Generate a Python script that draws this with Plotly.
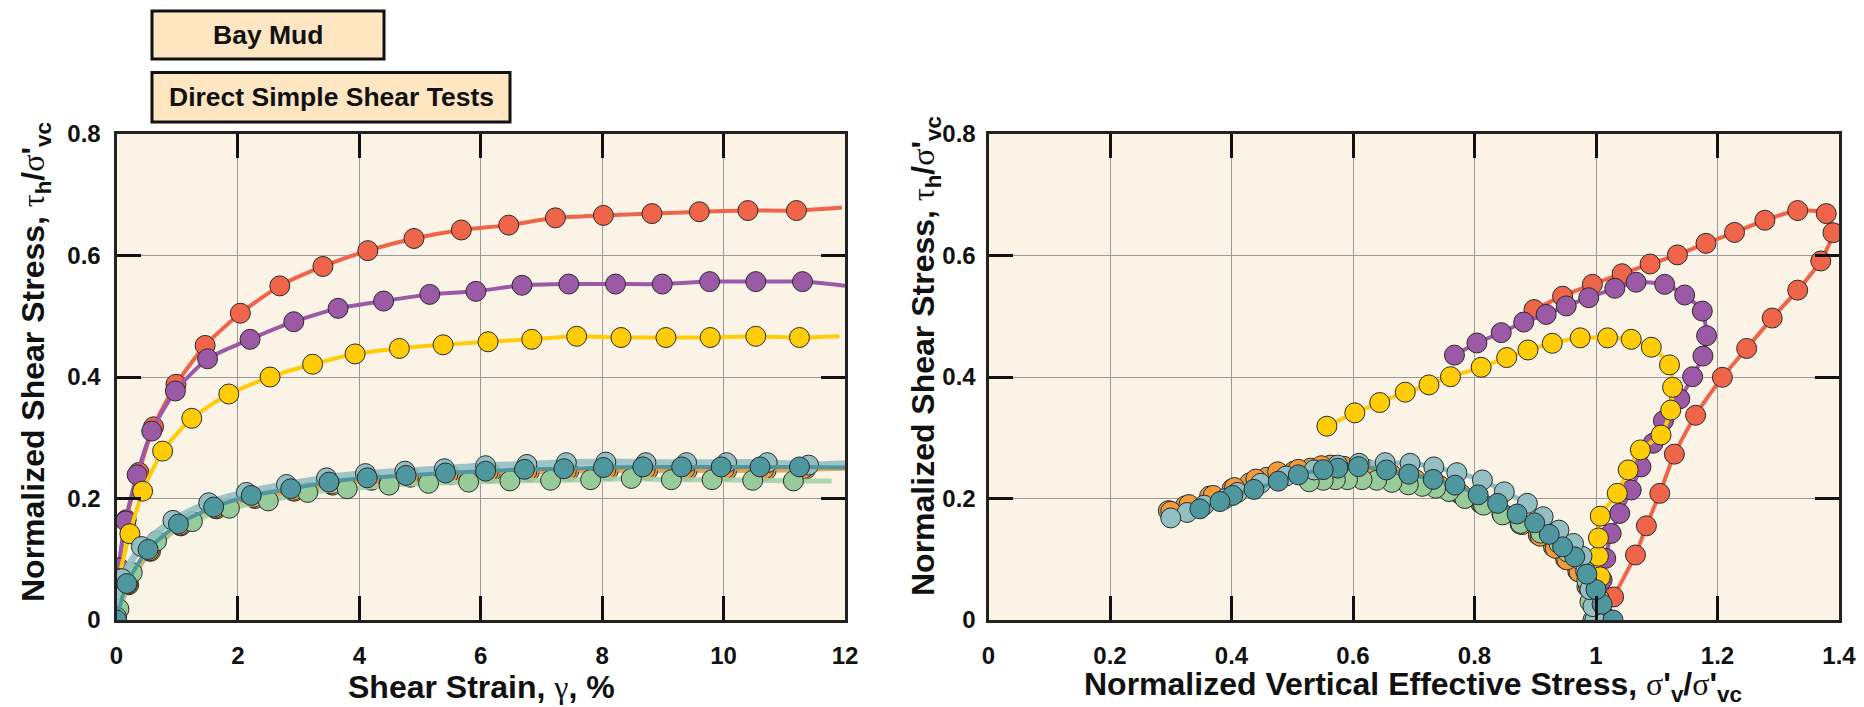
import plotly.graph_objects as go

# ---------------- Stress-strain curves (left panel) ----------------
red_strain = [0, 0.03, 0.16, 0.37, 0.61, 0.98, 1.46, 2.04, 2.69, 3.40, 4.14, 4.90, 5.68, 6.46, 7.23, 8.02, 8.82, 9.60, 10.40, 11.20]
red_tau = [0, 0.082, 0.165, 0.243, 0.318, 0.388, 0.452, 0.505, 0.550, 0.582, 0.608, 0.628, 0.642, 0.650, 0.662, 0.666, 0.669, 0.672, 0.674, 0.674]
red_end = (11.95, 0.679)

purple_strain = [0, 0.04, 0.15, 0.34, 0.58, 0.97, 1.50, 2.20, 2.92, 3.65, 4.40, 5.16, 5.92, 6.68, 7.45, 8.22, 8.99, 9.77, 10.53, 11.30]
purple_tau = [0.005, 0.086, 0.163, 0.239, 0.311, 0.377, 0.430, 0.462, 0.491, 0.513, 0.525, 0.536, 0.541, 0.551, 0.553, 0.553, 0.553, 0.557, 0.557, 0.557]
purple_end = (12.0, 0.550)

yellow_strain = [0, 0.04, 0.22, 0.43, 0.76, 1.24, 1.85, 2.53, 3.23, 3.93, 4.66, 5.38, 6.12, 6.84, 7.58, 8.31, 9.05, 9.78, 10.53, 11.25]
yellow_tau = [0, 0.068, 0.142, 0.212, 0.278, 0.332, 0.372, 0.400, 0.421, 0.438, 0.447, 0.453, 0.458, 0.462, 0.467, 0.465, 0.465, 0.465, 0.467, 0.465]
yellow_end = (11.91, 0.467)

tan_strain = [0, 0.20, 0.56, 1.06, 1.65, 2.28, 2.93, 3.56, 4.20, 4.84, 5.50, 6.16, 6.80, 7.45, 8.10, 8.75, 9.40, 10.05, 10.70, 11.35]
tan_tau = [0, 0.058, 0.113, 0.155, 0.183, 0.200, 0.212, 0.222, 0.230, 0.235, 0.239, 0.242, 0.244, 0.245, 0.246, 0.246, 0.246, 0.246, 0.246, 0.248]
tan_end = (12.0, 0.250)

orange_strain = [0, 0.18, 0.54, 1.04, 1.62, 2.25, 2.90, 3.53, 4.17, 4.81, 5.46, 6.12, 6.76, 7.41, 8.06, 8.71, 9.36, 10.01, 10.66, 11.31]
orange_tau = [0, 0.059, 0.114, 0.156, 0.184, 0.202, 0.213, 0.224, 0.231, 0.236, 0.240, 0.243, 0.245, 0.246, 0.247, 0.248, 0.248, 0.248, 0.248, 0.249]
orange_end = (12.0, 0.250)

green_strain = [0.04, 0.26, 0.66, 1.25, 1.86, 2.50, 3.15, 3.80, 4.49, 5.14, 5.80, 6.48, 7.15, 7.81, 8.48, 9.14, 9.81, 10.48, 11.15]
green_tau = [0.018, 0.078, 0.130, 0.162, 0.184, 0.196, 0.210, 0.216, 0.222, 0.225, 0.227, 0.229, 0.230, 0.231, 0.233, 0.231, 0.231, 0.230, 0.229]
green_end = (11.78, 0.229)

lteal_strain = [0, 0.09, 0.41, 0.93, 1.52, 2.14, 2.80, 3.46, 4.10, 4.75, 5.40, 6.08, 6.76, 7.41, 8.06, 8.72, 9.39, 10.05, 10.72, 11.40]
lteal_tau = [0.005, 0.068, 0.121, 0.164, 0.193, 0.210, 0.223, 0.234, 0.241, 0.245, 0.249, 0.254, 0.256, 0.259, 0.260, 0.259, 0.259, 0.259, 0.259, 0.255]
lteal_end = (12.0, 0.257)

dteal_strain = [0, 0.17, 0.52, 1.02, 1.60, 2.22, 2.87, 3.50, 4.13, 4.77, 5.42, 6.08, 6.72, 7.37, 8.02, 8.67, 9.31, 9.96, 10.60, 11.25]
dteal_tau = [0, 0.060, 0.116, 0.158, 0.186, 0.205, 0.216, 0.227, 0.234, 0.238, 0.242, 0.245, 0.248, 0.249, 0.251, 0.252, 0.252, 0.252, 0.252, 0.252]
dteal_end = (12.0, 0.251)

# ---------------- Stress paths (right panel) ----------------
red_sv = [1.015, 1.029, 1.065, 1.083, 1.105, 1.129, 1.164, 1.208, 1.248, 1.290, 1.332, 1.370, 1.390, 1.379, 1.332, 1.278, 1.228, 1.181, 1.134, 1.089, 1.043, 0.994, 0.945, 0.898]
red_path_tau = [0.005, 0.038, 0.107, 0.155, 0.2085, 0.273, 0.337, 0.3995, 0.447, 0.497, 0.543, 0.591, 0.6375, 0.669, 0.674, 0.658, 0.638, 0.620, 0.601, 0.586, 0.570, 0.5525, 0.533, 0.511]

purple_sv = [1.0, 1.005, 1.010, 1.016, 1.025, 1.039, 1.058, 1.074, 1.094, 1.111, 1.138, 1.159, 1.176, 1.182, 1.175, 1.146, 1.113, 1.066, 1.031, 0.988, 0.951, 0.918, 0.881, 0.844, 0.804, 0.767]
purple_path_tau = [0.010, 0.035, 0.066, 0.1015, 0.1425, 0.1755, 0.214, 0.252, 0.291, 0.328, 0.364, 0.4005, 0.4345, 0.468, 0.5085, 0.535, 0.5525, 0.556, 0.546, 0.5305, 0.517, 0.503, 0.4905, 0.473, 0.456, 0.436]

yellow_sv = [1.0, 1.005, 1.007, 1.004, 1.004, 1.007, 1.035, 1.053, 1.073, 1.107, 1.123, 1.126, 1.121, 1.091, 1.058, 1.019, 0.974, 0.928, 0.888, 0.853, 0.811, 0.7605, 0.725, 0.686, 0.644, 0.603, 0.557]
yellow_path_tau = [0.005, 0.035, 0.071, 0.105, 0.135, 0.171, 0.2085, 0.247, 0.280, 0.3045, 0.3455, 0.383, 0.420, 0.449, 0.462, 0.4645, 0.4645, 0.4555, 0.4445, 0.432, 0.416, 0.4005, 0.387, 0.375, 0.358, 0.341, 0.319]

tan_sv = [1.0, 0.995, 0.985, 0.970, 0.950, 0.930, 0.905, 0.875, 0.845, 0.810, 0.775, 0.740, 0.700, 0.660, 0.620, 0.580, 0.563, 0.530, 0.503, 0.458, 0.430, 0.401, 0.364, 0.324, 0.296]
tan_path_tau = [0.0, 0.025, 0.055, 0.080, 0.100, 0.120, 0.140, 0.158, 0.175, 0.192, 0.208, 0.222, 0.232, 0.240, 0.247, 0.252, 0.255, 0.250, 0.245, 0.235, 0.226, 0.216, 0.204, 0.188, 0.180]

orange_sv = [1.005, 0.998, 0.988, 0.972, 0.952, 0.933, 0.908, 0.878, 0.848, 0.813, 0.778, 0.743, 0.703, 0.663, 0.623, 0.585, 0.548, 0.510, 0.476, 0.440, 0.405, 0.370, 0.330, 0.300]
orange_path_tau = [0.0, 0.024, 0.054, 0.079, 0.099, 0.118, 0.138, 0.157, 0.174, 0.191, 0.207, 0.221, 0.231, 0.240, 0.248, 0.253, 0.254, 0.248, 0.244, 0.232, 0.218, 0.205, 0.190, 0.179]

green_sv = [0.995, 0.990, 0.985, 0.974, 0.953, 0.939, 0.909, 0.876, 0.846, 0.815, 0.784, 0.758, 0.736, 0.714, 0.691, 0.664, 0.639, 0.615, 0.591, 0.571, 0.551, 0.528]
green_path_tau = [0.0, 0.030, 0.065, 0.099, 0.112, 0.126, 0.143, 0.159, 0.173, 0.189, 0.200, 0.2115, 0.217, 0.220, 0.2225, 0.2265, 0.230, 0.231, 0.231, 0.231, 0.230, 0.2275]

lteal_sv = [0.998, 0.995, 0.990, 0.983, 0.977, 0.963, 0.939, 0.913, 0.887, 0.849, 0.813, 0.771, 0.733, 0.694, 0.653, 0.610, 0.575, 0.536, 0.490, 0.448, 0.410, 0.390, 0.355, 0.327, 0.300]
lteal_path_tau = [0.0, 0.022, 0.050, 0.080, 0.105, 0.126, 0.148, 0.170, 0.192, 0.211, 0.2305, 0.2425, 0.252, 0.258, 0.259, 0.258, 0.255, 0.247, 0.237, 0.225, 0.210, 0.200, 0.189, 0.177, 0.168]

dteal_sv = [1.028, 1.010, 1.000, 0.985, 0.965, 0.945, 0.923, 0.899, 0.870, 0.838, 0.806, 0.768, 0.732, 0.692, 0.655, 0.609, 0.575, 0.551, 0.510, 0.477, 0.437, 0.402, 0.381, 0.348]
dteal_path_tau = [0.0, 0.026, 0.050, 0.0755, 0.104, 0.1205, 0.141, 0.160, 0.1745, 0.192, 0.206, 0.222, 0.2315, 0.240, 0.247, 0.2525, 0.250, 0.2475, 0.239, 0.2285, 0.215, 0.205, 0.195, 0.183]

# axis ticks
strain_ticks = [0, 2, 4, 6, 8, 10, 12]
strain_labels = ["0", "2", "4", "6", "8", "10", "12"]
tau_ticks = [0, 0.2, 0.4, 0.6, 0.8]
tau_labels = ["0", "0.2", "0.4", "0.6", "0.8"]
sv_ticks = [0, 0.2, 0.4, 0.6, 0.8, 1.0, 1.2, 1.4]
sv_labels = ["0", "0.2", "0.4", "0.6", "0.8", "1", "1.2", "1.4"]

# ---------------- styling ----------------
W, H = 1864, 707
FONT = "Liberation Sans, Arial, sans-serif"
RED = "#EF654A"
PURPLE = "#9B59A6"
YELLOW = "#FFCC05"
TAN = "#C9A35E"
ORANGE = "#F39A3A"
GREEN = "#97CB99"
LTEAL = "#93BFC3"
DTEAL = "#4E979F"
PLOT_BG = "#FBF4E6"
BOX_FILL = "#FEE6C3"
MSIZE = 20
OUTLINE = dict(color="#2a2a2a", width=1)

fig = go.Figure()


def add_series(x, y, color, xa, ya, lw, lcolor=None, lopac=1.0, start=None, end=None):
    lx, ly = list(x), list(y)
    if start is not None:
        lx, ly = [start[0]] + lx, [start[1]] + ly
    if end is not None:
        lx, ly = lx + [end[0]], ly + [end[1]]
    fig.add_trace(go.Scatter(
        x=lx, y=ly, mode="lines", xaxis=xa, yaxis=ya, showlegend=False,
        line=dict(color=lcolor or color, width=lw, shape="spline", smoothing=0.6),
        opacity=lopac, hoverinfo="skip"))
    fig.add_trace(go.Scatter(
        x=x, y=y, mode="markers", xaxis=xa, yaxis=ya, showlegend=False,
        marker=dict(size=MSIZE, color=color, line=OUTLINE)))


# left panel (drawing order: back to front)
add_series(red_strain, red_tau, RED, "x", "y", 4, end=red_end)
add_series(purple_strain, purple_tau, PURPLE, "x", "y", 4, end=purple_end)
add_series(yellow_strain, yellow_tau, YELLOW, "x", "y", 4, end=yellow_end)
add_series(tan_strain, tan_tau, TAN, "x", "y", 5, lopac=0.8, end=tan_end)
add_series(orange_strain, orange_tau, ORANGE, "x", "y", 4, lopac=0.8, end=orange_end)
add_series(green_strain, green_tau, GREEN, "x", "y", 5, lcolor="#A6D3A6", lopac=0.9,
           start=(0, 0), end=green_end)
add_series(lteal_strain, lteal_tau, LTEAL, "x", "y", 7, lopac=0.9, end=lteal_end)
add_series(dteal_strain, dteal_tau, DTEAL, "x", "y", 4, end=dteal_end)

# right panel
add_series(red_sv, red_path_tau, RED, "x2", "y2", 4)
add_series(purple_sv, purple_path_tau, PURPLE, "x2", "y2", 4)
add_series(yellow_sv, yellow_path_tau, YELLOW, "x2", "y2", 4)
add_series(tan_sv, tan_path_tau, TAN, "x2", "y2", 4)
add_series(orange_sv, orange_path_tau, ORANGE, "x2", "y2", 4)
add_series(green_sv, green_path_tau, GREEN, "x2", "y2", 4)
add_series(lteal_sv, lteal_path_tau, LTEAL, "x2", "y2", 5)
add_series(dteal_sv, dteal_path_tau, DTEAL, "x2", "y2", 4)


def px_x(p):
    return p / W


def px_y(p):
    return 1 - p / H


TOP, BOT = 134, 620
ydom = [px_y(BOT), px_y(TOP)]
tickfont = dict(family=FONT, size=24, color="#111")
common = dict(showline=True, linecolor="#222", linewidth=3, mirror="ticks",
              ticks="inside", ticklen=24, tickwidth=3, tickcolor="#111",
              showgrid=True, gridcolor="#9a9a9a", gridwidth=1.3,
              zeroline=False, tickfont=tickfont, tickmode="array",
              automargin=False)

fig.update_layout(
    width=W, height=H,
    margin=dict(l=0, r=0, t=0, b=0, autoexpand=False),
    paper_bgcolor="white", plot_bgcolor=PLOT_BG,
    font=dict(family=FONT, color="#111"),
    xaxis=dict(domain=[px_x(116.5), px_x(845)], range=[0, 12], anchor="y",
               tickvals=strain_ticks, ticktext=[f"<b>{t}</b>" for t in strain_labels],
               ticklabelstandoff=12, **common),
    yaxis=dict(domain=ydom, range=[0, 0.8], anchor="x",
               tickvals=tau_ticks, ticktext=[f"<b>{t}</b>" for t in tau_labels],
               ticklabelstandoff=8, **common),
    xaxis2=dict(domain=[px_x(988.5), px_x(1839)], range=[0, 1.4], anchor="y2",
                tickvals=sv_ticks, ticktext=[f"<b>{t}</b>" for t in sv_labels],
                ticklabelstandoff=12, **common),
    yaxis2=dict(domain=ydom, range=[0, 0.8], anchor="x2",
                tickvals=tau_ticks, ticktext=[f"<b>{t}</b>" for t in tau_labels],
                ticklabelstandoff=5, **common),
)

GREEK = "<span style='font-family:Liberation Serif;font-weight:normal'>{}</span>"
tau_title = ("<b>Normalized Shear Stress, </b>" + GREEK.format("τ") + "<b><sub>h</sub>/</b>"
             + GREEK.format("σ") + "<b>'<sub>vc</sub></b>")
strain_title = "<b>Shear Strain, </b>" + GREEK.format("γ") + "<b>, %</b>"
sv_title = ("<b>Normalized Vertical Effective Stress, </b>" + GREEK.format("σ")
            + "<b>'<sub>v</sub>/</b>" + GREEK.format("σ") + "<b>'<sub>vc</sub></b>")

title_font = dict(family=FONT, size=32, color="#111")
annots = [
    dict(text=tau_title, x=px_x(35), y=px_y(362), textangle=-90),
    dict(text=tau_title, x=px_x(926), y=px_y(356), textangle=-90),
    dict(text=strain_title, x=px_x(481), y=px_y(687)),
    dict(text=sv_title, x=px_x(1413), y=px_y(686)),
]
for a in annots:
    fig.add_annotation(xref="paper", yref="paper", showarrow=False,
                       xanchor="center", yanchor="middle", font=title_font, **a)

# header boxes
boxes = [
    ("Bay Mud", 152, 384, 11, 59),
    ("Direct Simple Shear Tests", 152, 510, 72.5, 122),
]
for text, x0, x1, y0, y1 in boxes:
    fig.add_shape(type="rect", xref="paper", yref="paper",
                  x0=px_x(x0), x1=px_x(x1), y0=px_y(y1), y1=px_y(y0),
                  fillcolor=BOX_FILL, line=dict(color="#111", width=3))
    fig.add_annotation(xref="paper", yref="paper", showarrow=False,
                       x=px_x((x0 + x1) / 2), y=px_y((y0 + y1) / 2),
                       xanchor="center", yanchor="middle",
                       text=f"<b>{text}</b>", font=dict(family=FONT, size=26.5, color="#111"))

fig.write_html("out.html")
